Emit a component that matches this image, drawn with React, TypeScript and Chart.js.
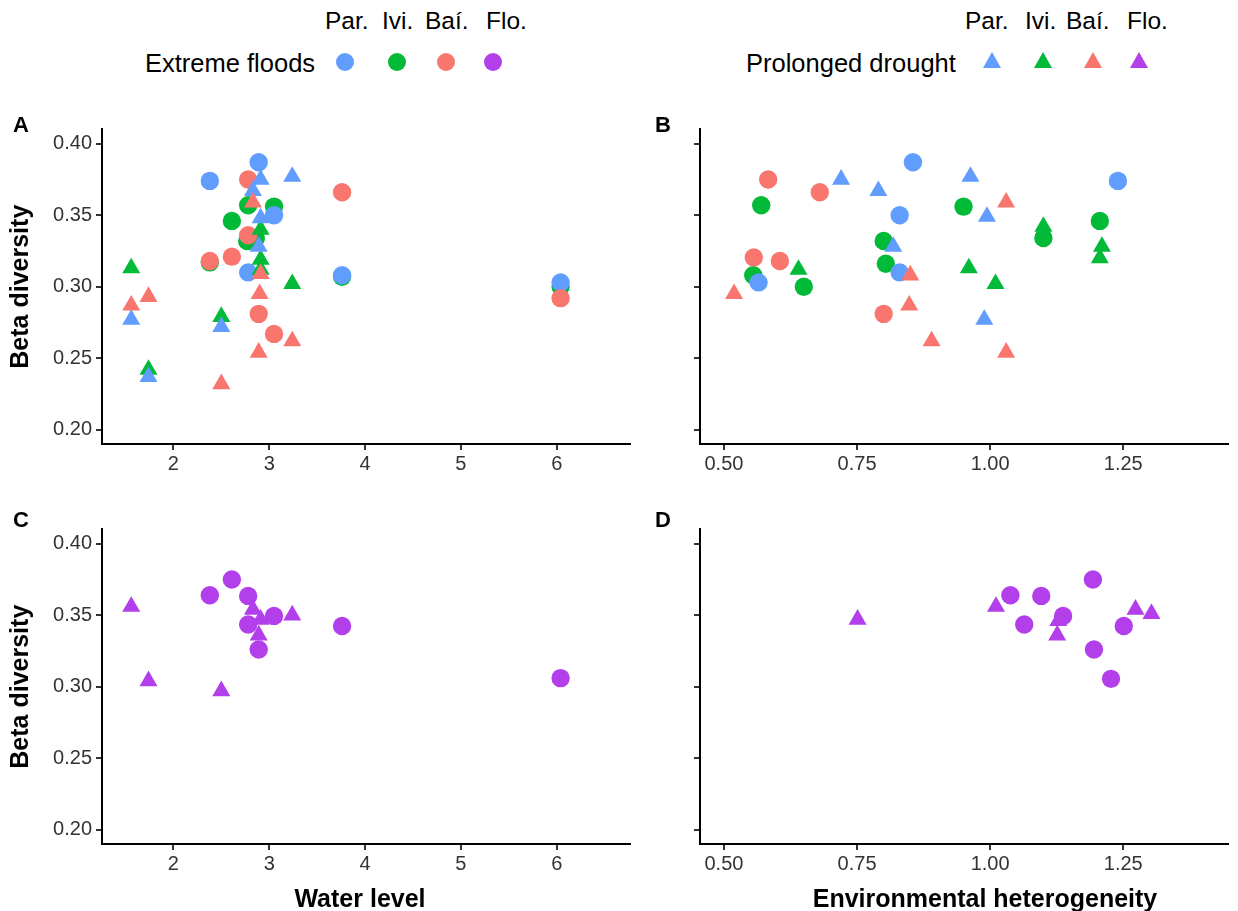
import React, { useEffect, useRef } from "react";
import { Chart, registerables } from "chart.js";

Chart.register(...registerables);

const FONT = "'Liberation Sans', Arial, Helvetica, sans-serif";

const siteLabels = ["Par.", "Ivi.", "Baí.", "Flo."];
const siteColors = ["#619CFF", "#00BA38", "#F8766D", "#B23FEA"];

const betaTicks = [0.2, 0.25, 0.3, 0.35, 0.4];
const waterTicks = [2, 3, 4, 5, 6];
const hetTicks = [0.5, 0.75, 1.0, 1.25];

// ---------- Panel A : water level ----------
const parFloodWL = [2.89, 2.38, 3.05, 2.78, 3.76, 6.04];
const parFloodBetaWL = [0.387, 0.374, 0.35, 0.31, 0.308, 0.303];
const iviFloodWL = [2.78, 3.05, 2.61, 2.86, 2.77, 2.38, 3.76, 6.04];
const iviFloodBetaWL = [0.357, 0.356, 0.346, 0.334, 0.332, 0.317, 0.307, 0.3];
const baiFloodWL = [2.78, 3.76, 2.78, 2.61, 2.38, 2.89, 3.05, 6.04];
const baiFloodBetaWL = [0.375, 0.366, 0.336, 0.321, 0.318, 0.281, 0.267, 0.292];
const parDroughtWL = [2.91, 3.24, 2.83, 2.91, 2.89, 1.56, 2.5, 1.74];
const parDroughtBetaWL = [0.375, 0.377, 0.367, 0.348, 0.328, 0.277, 0.272, 0.237];
const iviDroughtWL = [1.56, 2.5, 1.74, 3.24, 2.91, 2.91, 2.91];
const iviDroughtBetaWL = [0.313, 0.279, 0.242, 0.302, 0.319, 0.312, 0.34];
const baiDroughtWL = [2.83, 2.91, 2.9, 1.74, 1.56, 3.24, 2.89, 2.5];
const baiDroughtBetaWL = [0.359, 0.309, 0.295, 0.293, 0.287, 0.262, 0.254, 0.232];

// ---------- Panel B : environmental heterogeneity ----------
const parFloodHet = [0.855, 1.24, 0.83, 0.83, 0.565];
const parFloodBetaHet = [0.387, 0.374, 0.35, 0.31, 0.303];
const iviFloodHet = [0.57, 0.8, 0.804, 0.555, 0.65, 0.95, 1.1, 1.206];
const iviFloodBetaHet = [0.357, 0.332, 0.316, 0.308, 0.3, 0.356, 0.334, 0.346];
const baiFloodHet = [0.583, 0.68, 0.556, 0.605, 0.8];
const baiFloodBetaHet = [0.375, 0.366, 0.3205, 0.318, 0.281];
const parDroughtHet = [0.72, 0.79, 0.818, 0.963, 0.994, 0.989];
const parDroughtBetaHet = [0.375, 0.367, 0.328, 0.377, 0.349, 0.277];
const iviDroughtHet = [0.64, 0.96, 1.01, 1.1, 1.21, 1.206];
const iviDroughtBetaHet = [0.312, 0.313, 0.302, 0.342, 0.328, 0.32];
const baiDroughtHet = [0.519, 0.85, 0.848, 0.89, 1.03, 1.03];
const baiDroughtBetaHet = [0.295, 0.308, 0.287, 0.262, 0.359, 0.254];

// ---------- Panel C : Flo. water level ----------
const floFloodWL = [2.61, 2.38, 2.78, 3.05, 2.78, 3.76, 2.89, 6.04];
const floFloodBetaWL = [0.375, 0.364, 0.3635, 0.3495, 0.3435, 0.3425, 0.326, 0.306];
const floDroughtWL = [1.56, 2.83, 2.91, 3.24, 2.89, 1.74, 2.5];
const floDroughtBetaWL = [0.356, 0.354, 0.347, 0.35, 0.336, 0.304, 0.297];

// ---------- Panel D : Flo. environmental heterogeneity ----------
const floFloodHet = [1.193, 1.038, 1.096, 1.137, 1.064, 1.251, 1.195, 1.227];
const floFloodBetaHet = [0.375, 0.364, 0.3635, 0.3495, 0.3435, 0.3425, 0.326, 0.3055];
const floDroughtHet = [1.011, 1.273, 1.303, 1.128, 1.126, 0.751];
const floDroughtBetaHet = [0.356, 0.354, 0.351, 0.346, 0.336, 0.347];

const pts = (xs: number[], ys: number[]) => xs.map((x, i) => ({ x, y: ys[i] }));

const ds = (label: string, xs: number[], ys: number[], color: string, tri: boolean, order: number) => ({
  label,
  data: pts(xs, ys),
  pointStyle: tri ? "triangle" : "circle",
  pointRadius: tri ? 10.4 : 9.2,
  pointHoverRadius: tri ? 10.4 : 9.2,
  backgroundColor: color,
  borderColor: color,
  borderWidth: 0,
  showLine: false,
  order,
});

type Spec = {
  datasets: any[];
  xMin: number;
  xMax: number;
  xTicks: number[];
  xDec: number;
  yLabels: boolean;
  yTitle: string | null;
  padTop: number;
  padRight: number;
  yWidth: number;
  xHeight: number;
};

function buildConfig(s: Spec): any {
  const tickFont = { family: FONT, size: 20 };
  return {
    type: "scatter",
    data: { datasets: s.datasets },
    options: {
      animation: false,
      responsive: false,
      events: [],
      layout: { padding: { top: s.padTop, right: s.padRight, left: 0, bottom: 0 } },
      plugins: { legend: { display: false }, tooltip: { enabled: false } },
      scales: {
        x: {
          type: "linear",
          min: s.xMin,
          max: s.xMax,
          afterBuildTicks: (sc: any) => {
            sc.ticks = s.xTicks.map((v) => ({ value: v }));
          },
          afterFit: (sc: any) => {
            sc.height = s.xHeight;
          },
          ticks: {
            callback: (v: any) => Number(v).toFixed(s.xDec),
            font: tickFont,
            color: "#333333",
            padding: 2,
            maxRotation: 0,
            autoSkip: false,
          },
          grid: { display: true, drawOnChartArea: false, drawTicks: true, tickLength: 6, color: "#333333", lineWidth: 2 },
          border: { display: true, color: "#000000", width: 2 },
        },
        y: {
          type: "linear",
          min: 0.19,
          max: 0.41,
          afterBuildTicks: (sc: any) => {
            sc.ticks = betaTicks.map((v) => ({ value: v }));
          },
          afterFit: (sc: any) => {
            sc.width = s.yWidth;
          },
          ticks: {
            display: s.yLabels,
            callback: (v: any) => Number(v).toFixed(2),
            font: tickFont,
            color: "#333333",
            padding: 4,
          },
          grid: { display: true, drawOnChartArea: false, drawTicks: true, tickLength: 6, color: "#333333", lineWidth: 2 },
          border: { display: true, color: "#000000", width: 2 },
          title: {
            display: !!s.yTitle,
            text: s.yTitle || "",
            color: "#000000",
            font: { family: FONT, size: 25, weight: "bold" },
            padding: { top: 6, bottom: 0 },
          },
        },
      },
    },
  };
}

function Panel(props: { spec: Spec; left: number; top: number; width: number; height: number }) {
  const ref = useRef<HTMLCanvasElement | null>(null);
  useEffect(() => {
    if (!ref.current) return;
    const chart = new Chart(ref.current, buildConfig(props.spec));
    return () => chart.destroy();
  }, []);
  return (
    <canvas
      ref={ref}
      width={props.width}
      height={props.height}
      style={{ position: "absolute", left: props.left, top: props.top, width: props.width, height: props.height }}
    />
  );
}

const [cPar, cIvi, cBai, cFlo] = siteColors;

const specA: Spec = {
  datasets: [
    ds("Baí. drought", baiDroughtWL, baiDroughtBetaWL, cBai, true, 1),
    ds("Par. drought", parDroughtWL, parDroughtBetaWL, cPar, true, 2),
    ds("Ivi. drought", iviDroughtWL, iviDroughtBetaWL, cIvi, true, 3),
    ds("Baí. floods", baiFloodWL, baiFloodBetaWL, cBai, false, 4),
    ds("Par. floods", parFloodWL, parFloodBetaWL, cPar, false, 5),
    ds("Ivi. floods", iviFloodWL, iviFloodBetaWL, cIvi, false, 6),
  ],
  xMin: 1.255,
  xMax: 6.76,
  xTicks: waterTicks,
  xDec: 0,
  yLabels: true,
  yTitle: "Beta diversity",
  padTop: 29.4,
  padRight: 6,
  yWidth: 102,
  xHeight: 36,
};

const specB: Spec = {
  datasets: [
    ds("Baí. drought", baiDroughtHet, baiDroughtBetaHet, cBai, true, 1),
    ds("Par. drought", parDroughtHet, parDroughtBetaHet, cPar, true, 2),
    ds("Ivi. drought", iviDroughtHet, iviDroughtBetaHet, cIvi, true, 3),
    ds("Baí. floods", baiFloodHet, baiFloodBetaHet, cBai, false, 4),
    ds("Par. floods", parFloodHet, parFloodBetaHet, cPar, false, 5),
    ds("Ivi. floods", iviFloodHet, iviFloodBetaHet, cIvi, false, 6),
  ],
  xMin: 0.455,
  xMax: 1.446,
  xTicks: hetTicks,
  xDec: 2,
  yLabels: false,
  yTitle: null,
  padTop: 29.4,
  padRight: 5,
  yWidth: 60,
  xHeight: 36,
};

const specC: Spec = {
  datasets: [
    ds("Flo. drought", floDroughtWL, floDroughtBetaWL, cFlo, true, 1),
    ds("Flo. floods", floFloodWL, floFloodBetaWL, cFlo, false, 2),
  ],
  xMin: 1.255,
  xMax: 6.76,
  xTicks: waterTicks,
  xDec: 0,
  yLabels: true,
  yTitle: "Beta diversity",
  padTop: 49.4,
  padRight: 6,
  yWidth: 102,
  xHeight: 67,
};

const specD: Spec = {
  datasets: [
    ds("Flo. drought", floDroughtHet, floDroughtBetaHet, cFlo, true, 1),
    ds("Flo. floods", floFloodHet, floFloodBetaHet, cFlo, false, 2),
  ],
  xMin: 0.455,
  xMax: 1.446,
  xTicks: hetTicks,
  xDec: 2,
  yLabels: false,
  yTitle: null,
  padTop: 49.4,
  padRight: 5,
  yWidth: 60,
  xHeight: 67,
};

const floodHeaderX = [325, 382, 425, 486];
const floodMarkerX = [345, 397, 446, 493];
const droughtHeaderX = [965, 1025, 1066, 1127];
const droughtMarkerX = [992, 1043, 1093, 1139];

const textBase: React.CSSProperties = {
  position: "absolute",
  fontFamily: FONT,
  whiteSpace: "nowrap",
  color: "#000",
};

function Legend() {
  const items: React.ReactNode[] = [];
  siteLabels.forEach((lab, i) => {
    items.push(
      <div key={"fh" + i} style={{ ...textBase, left: floodHeaderX[i], top: 9, fontSize: 24.5, lineHeight: "24px" }}>
        {lab}
      </div>
    );
    items.push(
      <div key={"dh" + i} style={{ ...textBase, left: droughtHeaderX[i], top: 9, fontSize: 24.5, lineHeight: "24px" }}>
        {lab}
      </div>
    );
    items.push(
      <div
        key={"fm" + i}
        style={{
          position: "absolute",
          left: floodMarkerX[i] - 9,
          top: 62 - 9,
          width: 18,
          height: 18,
          borderRadius: "50%",
          background: siteColors[i],
        }}
      />
    );
    items.push(
      <div
        key={"dm" + i}
        style={{
          position: "absolute",
          left: droughtMarkerX[i] - 9.5,
          top: 52,
          width: 0,
          height: 0,
          borderLeft: "9.5px solid transparent",
          borderRight: "9.5px solid transparent",
          borderBottom: "16.5px solid " + siteColors[i],
        }}
      />
    );
  });
  return (
    <>
      <div style={{ ...textBase, left: 145, top: 51, fontSize: 25.5, lineHeight: "24px" }}>Extreme floods</div>
      <div style={{ ...textBase, left: 746, top: 51, fontSize: 25.5, lineHeight: "24px" }}>Prolonged drought</div>
      {items}
    </>
  );
}

const letterStyle: React.CSSProperties = { ...textBase, fontSize: 22, lineHeight: "22px", fontWeight: "bold" };
const xTitleStyle: React.CSSProperties = {
  ...textBase,
  fontSize: 25,
  lineHeight: "25px",
  fontWeight: "bold",
  width: 500,
  textAlign: "center",
  top: 885.5,
};

export default function App() {
  return (
    <div style={{ position: "absolute", left: 0, top: 0, width: 1238, height: 911, background: "#fff", overflow: "hidden" }}>
      <Legend />
      <Panel spec={specA} left={0} top={100} width={640} height={380} />
      <Panel spec={specB} left={640} top={100} width={598} height={380} />
      <Panel spec={specC} left={0} top={480} width={640} height={431} />
      <Panel spec={specD} left={640} top={480} width={598} height={431} />
      <div style={{ ...letterStyle, left: 13, top: 114.4 }}>A</div>
      <div style={{ ...letterStyle, left: 655, top: 114.4 }}>B</div>
      <div style={{ ...letterStyle, left: 13, top: 509.4 }}>C</div>
      <div style={{ ...letterStyle, left: 655, top: 509.4 }}>D</div>
      <div style={{ ...xTitleStyle, left: 360 - 250 }}>Water level</div>
      <div style={{ ...xTitleStyle, left: 985 - 250 }}>Environmental heterogeneity</div>
    </div>
  );
}
